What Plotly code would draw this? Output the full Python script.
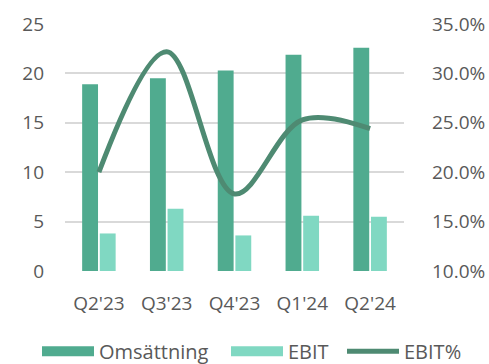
import plotly.graph_objects as go

categories = ["Q2'23", "Q3'23", "Q4'23", "Q1'24", "Q2'24"]
omsattning = [18.9, 19.5, 20.3, 21.9, 22.6]
ebit = [3.8, 6.3, 3.6, 5.6, 5.5]
ebit_pct = [0.200, 0.322, 0.178, 0.253, 0.244]

left_ticks = [0, 5, 10, 15, 20, 25]
right_ticks = [0.10, 0.15, 0.20, 0.25, 0.30, 0.35]

FONT = "Open Sans"
TXT = "#595959"
C_OMS = "#50AB8F"
C_EBIT = "#80D8C2"
C_PCT = "#4E8A72"

fig = go.Figure()
fig.add_trace(go.Bar(x=categories, y=omsattning, name="Omsättning", showlegend=False,
                     marker=dict(color=C_OMS, line=dict(width=0))))
fig.add_trace(go.Bar(x=categories, y=ebit, name="EBIT", showlegend=False,
                     marker=dict(color=C_EBIT, line=dict(width=0))))
fig.add_trace(go.Scatter(x=categories, y=ebit_pct, name="EBIT%", yaxis="y2",
                         mode="lines", showlegend=False,
                         line=dict(color=C_PCT, width=5, shape="spline", smoothing=1.0)))
# legend entries, one legend each so they can sit where the reference has them
legend_items = [("Omsättning", C_OMS, 15, "legend", 45),
                ("EBIT", C_EBIT, 15, "legend2", 234),
                ("EBIT%", C_PCT, 5, "legend3", 350)]
for nm, col, w, lg, _ in legend_items:
    fig.add_trace(go.Scatter(x=[None], y=[None], name=nm, mode="lines", legend=lg,
                             line=dict(color=col, width=w), showlegend=True))

legend_common = dict(orientation="h", xref="container", yref="container",
                     xanchor="left", y=0.035, yanchor="middle",
                     itemwidth=52, font=dict(size=20, color=TXT),
                     bgcolor="rgba(0,0,0,0)")
legends = {}
for nm, col, w, lg, px in legend_items:
    legends[lg] = dict(legend_common, x=(px - 8) / 489)

fig.update_layout(
    width=489, height=364,
    margin=dict(l=65, r=85, t=24, b=93, autoexpand=False),
    paper_bgcolor="white", plot_bgcolor="white",
    barmode="group", bargap=0.48, bargroupgap=0.1,
    font=dict(family=FONT, size=19, color=TXT),
    xaxis=dict(showgrid=False, showline=False, zeroline=False, ticks="",
               automargin=False,
               ticklabelstandoff=19, tickfont=dict(size=19, color=TXT)),
    yaxis=dict(range=[0, 25], tickvals=left_ticks, showgrid=True, automargin=False,
               gridcolor="#D9D9D9", gridwidth=1.5, zeroline=False, showline=False,
               ticks="", ticklabelstandoff=20, tickfont=dict(size=19, color=TXT)),
    yaxis2=dict(range=[0.10, 0.35], tickvals=right_ticks, tickformat=".1%",
                overlaying="y", side="right", showgrid=False, zeroline=False,
                showline=False, ticks="", ticklabelstandoff=27, automargin=False,
                tickfont=dict(size=19, color=TXT)),
    showlegend=True,
    **legends,
)

fig.write_html("out.html")
